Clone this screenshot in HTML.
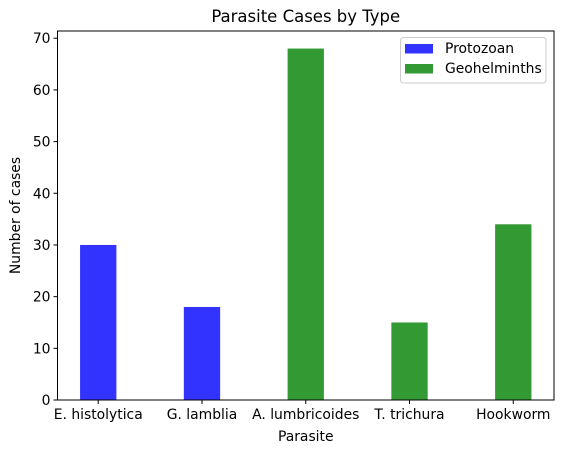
<!DOCTYPE html>
<html><head><meta charset="utf-8"><style>body{margin:0;background:#fff}svg{display:block;font-family:"DejaVu Sans","Liberation Sans",sans-serif}</style></head>
<body>
<svg id="c" width="563" height="453"></svg>
<script>
const categories=["E. histolytica","G. lamblia","A. lumbricoides","T. trichura","Hookworm"];
const values=[30,18,68,15,34];
const groups=["Protozoan","Protozoan","Geohelminths","Geohelminths","Geohelminths"];
const yTicks=[0,10,20,30,40,50,60,70];
const colors={Protozoan:"#3333ff",Geohelminths:"#339933"};
const L=57.5,R=554,T=31,B=400,yMax=71.4,xMin=-0.3925,xMax=4.3925;
const xs=v=>L+(v-xMin)/(xMax-xMin)*(R-L);
const ys=v=>B-v/yMax*(B-T);
const svg=document.getElementById('c');const NS="http://www.w3.org/2000/svg";
function mk(t,a,p){const e=document.createElementNS(NS,t);for(const k in a)e.setAttribute(k,a[k]);(p||svg).appendChild(e);return e;}
let t=mk('text',{x:(L+R)/2,y:22,'text-anchor':'middle','font-size':16.5});t.textContent="Parasite Cases by Type";


values.forEach((v,i)=>{const w=xs(0.35)-xs(0);
const r=mk('rect',{x:xs(i)-w/2,y:ys(v),width:w,height:ys(0)-ys(v),fill:colors[groups[i]]});


mk('line',{x1:xs(i),x2:xs(i),y1:B,y2:B+4,stroke:'#000'});
const lb=mk('text',{x:xs(i),y:B+19,'text-anchor':'middle','font-size':13.9});lb.textContent=categories[i];

});
yTicks.forEach(v=>{mk('line',{x1:L-4,x2:L,y1:ys(v),y2:ys(v),stroke:'#000'});
const lb=mk('text',{x:L-7,y:ys(v)+5,'text-anchor':'end','font-size':13.9});lb.textContent=v;

});
const f=mk('rect',{x:L,y:T,width:R-L,height:B-T,fill:'none',stroke:'#000','stroke-width':1});


t=mk('text',{x:(L+R)/2,y:441,'text-anchor':'middle','font-size':13.9});t.textContent="Parasite";


t=mk('text',{x:20,y:(T+B)/2,'text-anchor':'middle','font-size':13.9,transform:`rotate(-90 20 ${(T+B)/2})`});t.textContent="Number of cases";


const lg=mk('g',{});


mk('rect',{x:400.5,y:37.5,width:145.5,height:45.5,rx:3,fill:'#fff',stroke:'#ccc'},lg);
["Protozoan","Geohelminths"].forEach((n,i)=>{mk('rect',{x:405,y:44+i*20,width:28,height:9.5,fill:colors[n]},lg);
const tx=mk('text',{x:445,y:53+i*20,'font-size':13.9},lg);tx.textContent=n;

});
</script>
</body></html>
